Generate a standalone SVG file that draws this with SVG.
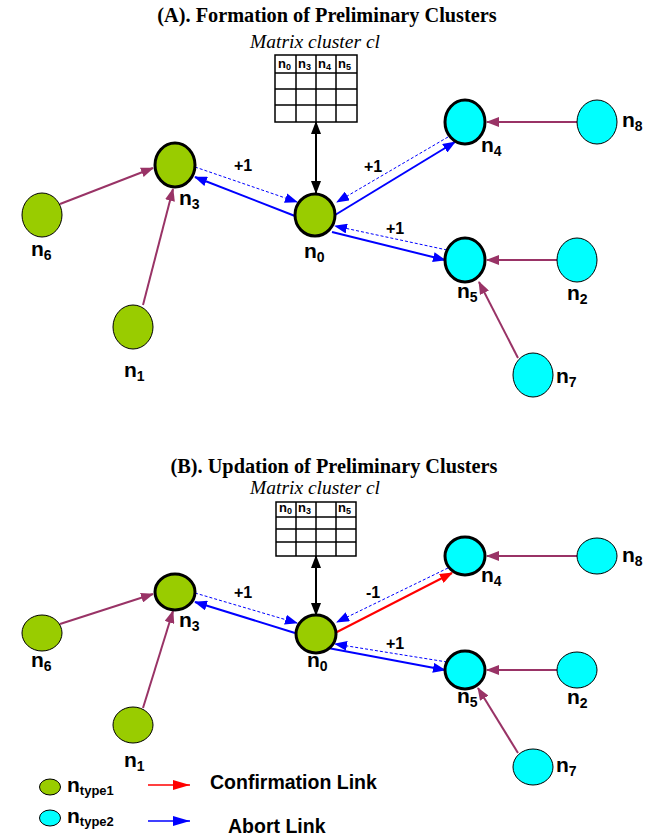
<svg xmlns="http://www.w3.org/2000/svg" width="652" height="839" viewBox="0 0 652 839">
<defs>
<style>
.title{font-family:"Liberation Serif","Times New Roman",serif;font-weight:bold;font-size:20.3px;fill:#000}
.mat{font-family:"Liberation Serif","Times New Roman",serif;font-style:italic;font-size:19.5px;fill:#000}
.lbl{font-family:"Liberation Sans",Arial,sans-serif;font-weight:bold;font-size:21px;fill:#000}
.sub{font-size:14px}
.hdr{font-family:"Liberation Sans",Arial,sans-serif;font-weight:bold;font-size:13px;fill:#000}
.hsub{font-size:9px}
.w{font-family:"Liberation Sans",Arial,sans-serif;font-weight:bold;font-size:16px;fill:#000}
.leg{font-family:"Liberation Sans",Arial,sans-serif;font-weight:bold;font-size:19.5px;fill:#000}
.g{fill:#99CC00;stroke:#000}
.c{fill:#00FFFF;stroke:#000}
.thick{stroke-width:3}
.thin{stroke-width:1}
.grid{fill:none;stroke:#000;stroke-width:1.5}
.pur{stroke:#993366;stroke-width:2;fill:none;marker-end:url(#mP)}
.bl{stroke:#0000FF;stroke-width:2;fill:none;marker-end:url(#mB)}
.bd{stroke:#0000FF;stroke-width:1;stroke-dasharray:3,2;fill:none;marker-end:url(#mB)}
.rd{stroke:#FF0000;stroke-width:2;fill:none;marker-end:url(#mR)}
.blk{stroke:#000;stroke-width:2;fill:none;marker-start:url(#mK);marker-end:url(#mK)}
</style>
<marker id="mP" markerUnits="userSpaceOnUse" markerWidth="14" markerHeight="10" refX="12" refY="5" orient="auto"><path d="M0,0 L13,5 L0,10 z" fill="#993366"/></marker>
<marker id="mB" markerUnits="userSpaceOnUse" markerWidth="14" markerHeight="10" refX="12" refY="5" orient="auto"><path d="M0,0 L13,5 L0,10 z" fill="#0000FF"/></marker>
<marker id="mR" markerUnits="userSpaceOnUse" markerWidth="14" markerHeight="10" refX="12" refY="5" orient="auto"><path d="M0,0 L13,5 L0,10 z" fill="#FF0000"/></marker>
<marker id="mK" markerUnits="userSpaceOnUse" markerWidth="14" markerHeight="10" refX="12" refY="5" orient="auto-start-reverse"><path d="M0,0 L13,5 L0,10 z" fill="#000"/></marker>
<marker id="mLR" markerUnits="userSpaceOnUse" markerWidth="18" markerHeight="10" refX="17" refY="5" orient="auto"><path d="M0,0 L17,5 L0,10 z" fill="#FF0000"/></marker>
<marker id="mLB" markerUnits="userSpaceOnUse" markerWidth="18" markerHeight="10" refX="17" refY="5" orient="auto"><path d="M0,0 L17,5 L0,10 z" fill="#0000FF"/></marker>
</defs>
<rect width="652" height="839" fill="#fff"/>

<!-- Panel A -->
<text class="title" x="327" y="22" text-anchor="middle">(A). Formation of Preliminary Clusters</text>
<text class="mat" x="315" y="48" text-anchor="middle">Matrix cluster cl</text>
<g id="matrixA">
<rect class="grid" x="275" y="55" width="82" height="67"/>
<path class="grid" d="M275,73H357M275,89H357M275,105H357M296,55V122M316,55V122M336,55V122"/>
<text class="hdr" x="278" y="68">n<tspan class="hsub" dy="2">0</tspan></text>
<text class="hdr" x="298" y="68">n<tspan class="hsub" dy="2">3</tspan></text>
<text class="hdr" x="318" y="68">n<tspan class="hsub" dy="2">4</tspan></text>
<text class="hdr" x="338" y="68">n<tspan class="hsub" dy="2">5</tspan></text>
</g>

<g id="connectorsA">
<path class="blk" d="M316,122 L316,193"/>
<path class="pur" d="M60,204 L153,168"/>
<path class="pur" d="M143,305 L173,189"/>
<path class="pur" d="M577,122 L487,122"/>
<path class="pur" d="M557,260 L487,260"/>
<path class="pur" d="M518,358 L479,282"/>
<path class="bl" d="M295,216 L195,177"/>
<path class="bd" d="M195,167 L297,202"/>
<path class="bl" d="M335,215 L455,142"/>
<path class="bd" d="M448,137 L337,202"/>
<path class="bl" d="M332,232 L445,260"/>
<path class="bd" d="M447,250 L335,226"/>
<text class="w" x="243" y="171" text-anchor="middle">+1</text>
<text class="w" x="373" y="172" text-anchor="middle">+1</text>
<text class="w" x="395" y="234" text-anchor="middle">+1</text>
</g>

<g id="A_n0"><ellipse class="g thick" cx="315" cy="215" rx="20" ry="21"/><text class="lbl" x="304" y="258">n<tspan class="sub" dy="4">0</tspan></text></g>
<g id="A_n3"><ellipse class="g thick" cx="175" cy="165" rx="20" ry="22"/><text class="lbl" x="179" y="205">n<tspan class="sub" dy="4">3</tspan></text></g>
<g id="A_n4"><ellipse class="c thick" cx="465" cy="122" rx="20" ry="22"/><text class="lbl" x="481" y="152">n<tspan class="sub" dy="4">4</tspan></text></g>
<g id="A_n5"><ellipse class="c thick" cx="465" cy="260" rx="20" ry="22"/><text class="lbl" x="457" y="298">n<tspan class="sub" dy="4">5</tspan></text></g>
<g id="A_n8"><ellipse class="c thin" cx="597" cy="122" rx="20" ry="22"/><text class="lbl" x="622" y="127">n<tspan class="sub" dy="4">8</tspan></text></g>
<g id="A_n2"><ellipse class="c thin" cx="577" cy="260" rx="20" ry="22"/><text class="lbl" x="567" y="300">n<tspan class="sub" dy="4">2</tspan></text></g>
<g id="A_n7"><ellipse class="c thin" cx="533" cy="375" rx="20" ry="22"/><text class="lbl" x="556" y="383">n<tspan class="sub" dy="4">7</tspan></text></g>
<g id="A_n6"><ellipse class="g thin" cx="42" cy="215" rx="20" ry="22"/><text class="lbl" x="31" y="256">n<tspan class="sub" dy="4">6</tspan></text></g>
<g id="A_n1"><ellipse class="g thin" cx="133" cy="327" rx="20" ry="22"/><text class="lbl" x="124" y="377">n<tspan class="sub" dy="4">1</tspan></text></g>

<!-- Panel B -->
<text class="title" x="334" y="473" text-anchor="middle">(B). Updation of Preliminary Clusters</text>
<text class="mat" x="315" y="494" text-anchor="middle">Matrix cluster cl</text>
<g id="matrixB">
<rect class="grid" x="276" y="502" width="80" height="54"/>
<path class="grid" d="M276,517H356M276,529H356M276,542H356M296,502V556M316,502V556M336,502V556"/>
<text class="hdr" x="279" y="512">n<tspan class="hsub" dy="2">0</tspan></text>
<text class="hdr" x="298" y="512">n<tspan class="hsub" dy="2">3</tspan></text>
<text class="hdr" x="338" y="512">n<tspan class="hsub" dy="2">5</tspan></text>
</g>

<g id="connectorsB">
<path class="blk" d="M316,556 L316,615"/>
<path class="pur" d="M60,624 L153,594"/>
<path class="pur" d="M143,708 L173,611"/>
<path class="pur" d="M577,556 L487,556"/>
<path class="pur" d="M557,670 L487,670"/>
<path class="pur" d="M518,753 L478,688"/>
<path class="bl" d="M295,633 L195,602"/>
<path class="bd" d="M195,593 L297,623"/>
<path class="rd" d="M335,633 L452,573"/>
<path class="bd" d="M448,568 L337,622"/>
<path class="bl" d="M328,648 L445,670"/>
<path class="bd" d="M447,662 L335,644"/>
<text class="w" x="243" y="598" text-anchor="middle">+1</text>
<text class="w" x="373" y="598" text-anchor="middle">-1</text>
<text class="w" x="395" y="649" text-anchor="middle">+1</text>
</g>

<g id="B_n0"><ellipse class="g thick" cx="316" cy="634" rx="20" ry="19"/><text class="lbl" x="307" y="667">n<tspan class="sub" dy="4">0</tspan></text></g>
<g id="B_n3"><ellipse class="g thick" cx="175" cy="592" rx="20" ry="18"/><text class="lbl" x="179" y="627">n<tspan class="sub" dy="4">3</tspan></text></g>
<g id="B_n4"><ellipse class="c thick" cx="465" cy="556" rx="20" ry="19"/><text class="lbl" x="481" y="582">n<tspan class="sub" dy="4">4</tspan></text></g>
<g id="B_n5"><ellipse class="c thick" cx="465" cy="670" rx="20" ry="19"/><text class="lbl" x="457" y="703">n<tspan class="sub" dy="4">5</tspan></text></g>
<g id="B_n8"><ellipse class="c thin" cx="597" cy="556" rx="20" ry="18"/><text class="lbl" x="622" y="562">n<tspan class="sub" dy="4">8</tspan></text></g>
<g id="B_n2"><ellipse class="c thin" cx="577" cy="670" rx="20" ry="18"/><text class="lbl" x="567" y="704">n<tspan class="sub" dy="4">2</tspan></text></g>
<g id="B_n7"><ellipse class="c thin" cx="533" cy="767" rx="20" ry="18"/><text class="lbl" x="556" y="772">n<tspan class="sub" dy="4">7</tspan></text></g>
<g id="B_n6"><ellipse class="g thin" cx="42" cy="633" rx="20" ry="18"/><text class="lbl" x="31" y="667">n<tspan class="sub" dy="4">6</tspan></text></g>
<g id="B_n1"><ellipse class="g thin" cx="133" cy="725" rx="20" ry="18"/><text class="lbl" x="124" y="767">n<tspan class="sub" dy="4">1</tspan></text></g>

<!-- Legend -->
<g id="legend">
<ellipse class="g thin" cx="50" cy="787" rx="10.5" ry="8"/>
<text class="lbl" x="67" y="792">n<tspan font-size="13" dy="3">type1</tspan></text>
<ellipse class="c thin" cx="50" cy="818" rx="10.5" ry="8"/>
<text class="lbl" x="67" y="823">n<tspan font-size="13" dy="3">type2</tspan></text>
<path d="M148,785 L190,785" stroke="#FF0000" stroke-width="1.5" marker-end="url(#mLR)"/>
<path d="M148,821 L190,821" stroke="#0000FF" stroke-width="1.5" marker-end="url(#mLB)"/>
<text class="leg" x="210" y="789">Confirmation Link</text>
<text class="leg" x="228" y="833">Abort Link</text>
</g>
</svg>
